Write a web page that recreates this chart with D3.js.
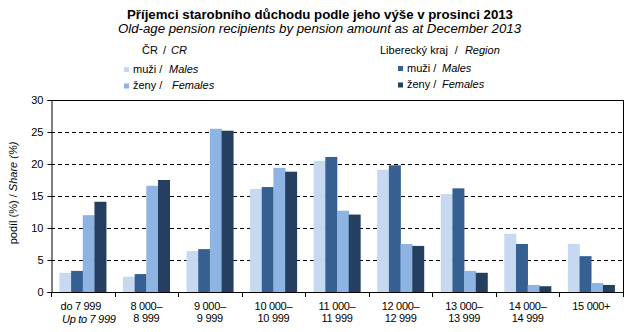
<!DOCTYPE html>
<html><head><meta charset="utf-8">
<script src="https://cdn.jsdelivr.net/npm/d3@7"></script>
<style>body{margin:0;background:#fff}svg{display:block;font-family:"Liberation Sans",Arial,sans-serif}</style>
</head><body><svg id="c" width="630" height="332"></svg>
<script>
const categories = ["do 7 999","8 000–8 999","9 000–9 999","10 000–10 999","11 000–11 999","12 000–12 999","13 000–13 999","14 000–14 999","15 000+"];
const labelLine1 = ["do 7 999","8 000–","9 000–","10 000–","11 000–","12 000–","13 000–","14 000–","15 000+"];
const labelLine2 = ["Up to 7 999","8 999","9 999","10 999","11 999","12 999","13 999","14 999",""];
const crMales = [3.0,2.4,6.4,16.1,20.5,19.1,15.3,9.1,7.5];
const libMales = [3.3,2.8,6.7,16.4,21.1,19.8,16.2,7.5,5.6];
const crFemales = [12.0,16.6,25.5,19.4,12.7,7.5,3.3,1.1,1.4];
const libFemales = [14.1,17.5,25.2,18.8,12.1,7.2,3.0,0.9,1.1];
const yTicks = [0,5,10,15,20,25,30];
const seriesKeys = ["crM","libM","crF","libF"];
const colors = {crM:"#c6d9f1", libM:"#366092", crF:"#8db4e2", libF:"#243f60"};

const svg = d3.select("#c");
const L=51,R=623,T=100,B=292;
const x = d3.scaleBand().domain(categories).range([L,R]).paddingInner(0).paddingOuter(0);
const y = d3.scaleLinear().domain([0,30]).range([B,T]);
const inner = d3.scaleBand().domain(seriesKeys).range([0,x.bandwidth()]).paddingOuter(0.72).paddingInner(0);

const data = categories.map((c,i)=>({c, crM:crMales[i], libM:libMales[i], crF:crFemales[i], libF:libFemales[i]}));

// gridlines
svg.append("g").selectAll("line").data(yTicks.filter(t=>t>0&&t<30)).join("line")
  .attr("x1",L).attr("x2",R).attr("y1",d=>y(d)+0.5).attr("y2",d=>y(d)+0.5)
  .attr("stroke","#000").attr("stroke-width",1).attr("stroke-dasharray","4,3");

// bars
svg.append("g").selectAll("g").data(data).join("g")
  .attr("transform",d=>`translate(${x(d.c)},0)`)
  .selectAll("rect").data(d=>seriesKeys.map(k=>({k,v:d[k]}))).join("rect")
  .attr("x",d=>inner(d.k)).attr("width",inner.bandwidth()+0.3)
  .attr("y",d=>y(d.v)).attr("height",d=>B-y(d.v)).attr("fill",d=>colors[d.k]);

// frame top/right
svg.append("line").attr("x1",L).attr("x2",R+0.5).attr("y1",T+0.5).attr("y2",T+0.5).attr("stroke","#000");
svg.append("line").attr("x1",R+0.5).attr("x2",R+0.5).attr("y1",T).attr("y2",B).attr("stroke","#000");

// y axis
const yAxis = d3.axisLeft(y).tickValues(yTicks).tickSize(4).tickPadding(4);
const gy = svg.append("g").attr("transform",`translate(${L+0.5},0)`).call(yAxis);
gy.select(".domain").attr("stroke","#000");
gy.selectAll("text").attr("font-size",11).attr("fill","#000").attr("font-family","Liberation Sans, Arial");
gy.selectAll(".tick line").attr("stroke","#000");

// x axis
const xAxis = d3.axisBottom(x).tickSize(0).tickFormat("");
const gx = svg.append("g").attr("transform",`translate(0,${B+0.5})`).call(xAxis);
gx.select(".domain").attr("stroke","#000").attr("d",`M${L},0H${R+0.5}`);
svg.append("g").selectAll("line").data(categories).join("line")
  .attr("x1",d=>Math.round(x(d))+0.5).attr("x2",d=>Math.round(x(d))+0.5).attr("y1",B).attr("y2",B+5).attr("stroke","#000");
svg.append("line").attr("x1",R+0.5).attr("x2",R+0.5).attr("y1",B).attr("y2",B+5).attr("stroke","#000");

const xl = svg.append("g").attr("font-size",11).attr("fill","#000").attr("text-anchor","middle").attr("letter-spacing","-0.3");
xl.selectAll("text.l1").data(categories).join("text").attr("class","l1")
  .attr("x",(d,i)=>x(d)+x.bandwidth()/2-(i===0?2:0)).attr("y",310).text((d,i)=>labelLine1[i]);
xl.selectAll("text.l2").data(categories).join("text").attr("class","l2")
  .attr("x",(d,i)=>x(d)+x.bandwidth()/2+(i===0?6:0)).attr("y",(d,i)=>i===0?322.5:321.5)
  .attr("font-style",(d,i)=>i===0?"italic":"normal").text((d,i)=>labelLine2[i]);

// y title
const yt = svg.append("text").attr("transform","translate(17,193) rotate(-90)").attr("text-anchor","middle").attr("font-size",11);
yt.append("tspan").text("podíl (%) / ");
yt.append("tspan").attr("font-style","italic").text("Share (%)");

// title
svg.append("text").attr("x",127).attr("y",19).attr("font-size",13.5).attr("font-weight","bold")
  .attr("textLength",386).attr("lengthAdjust","spacingAndGlyphs")
  .text("Příjemci starobního důchodu podle jeho výše v prosinci 2013");
svg.append("text").attr("x",118).attr("y",33).attr("font-size",12.5).attr("font-style","italic")
  .attr("textLength",403).attr("lengthAdjust","spacingAndGlyphs")
  .text("Old-age pension  recipients  by pension  amount  as at December  2013");

// legend
function head(xp, a, b, gap){
  const t = svg.append("text").attr("x",xp).attr("y",54).attr("font-size",11);
  t.append("tspan").text(a);
  t.append("tspan").attr("dx",gap).text("/");
  t.append("tspan").attr("dx",gap).attr("font-style","italic").text(b);
}
head(142,"ČR","CR",5);
head(380,"Liberecký kraj","Region",7);
const legendItems = [
  {k:"crM", x:124, y:72.5, tx:133, ix:169, a:"muži /", b:"Males"},
  {k:"crF", x:124, y:89, tx:133, ix:172, a:"ženy /", b:"Females"},
  {k:"libM", x:398, y:71.5, tx:407, ix:442, a:"muži /", b:"Males"},
  {k:"libF", x:398, y:88, tx:407, ix:442, a:"ženy /", b:"Females"}
];
const lg = svg.append("g").selectAll("g").data(legendItems).join("g");
lg.append("rect").attr("x",d=>d.x).attr("y",d=>d.y-5.5).attr("width",5).attr("height",5).attr("fill",d=>colors[d.k]);
lg.append("text").attr("x",d=>d.tx).attr("y",d=>d.y).attr("font-size",11).text(d=>d.a);
lg.append("text").attr("x",d=>d.ix).attr("y",d=>d.y).attr("font-size",11).attr("font-style","italic").text(d=>d.b);
</script></body></html>
